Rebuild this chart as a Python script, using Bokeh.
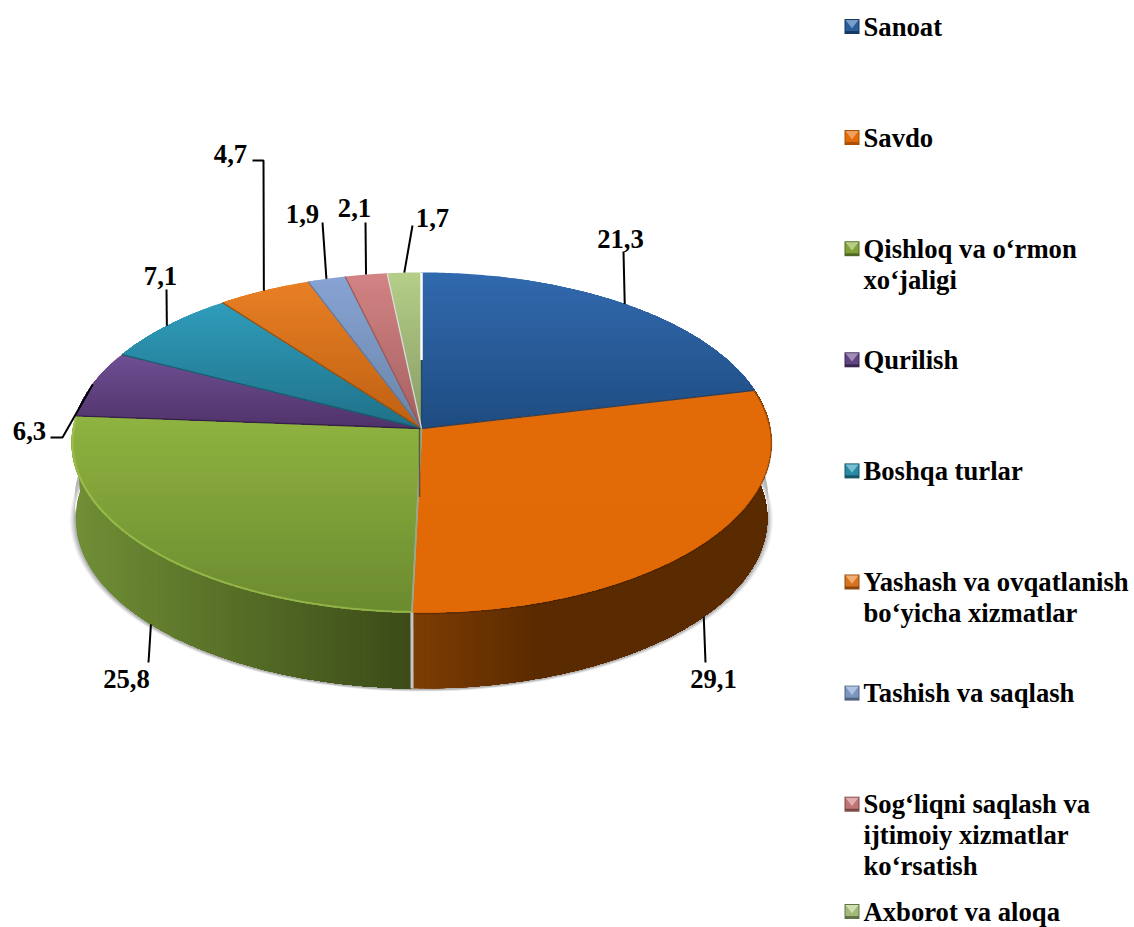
import numpy as np
from bokeh.core.properties import value
from bokeh.embed import file_html
from bokeh.models import Range1d
from bokeh.plotting import figure
from bokeh.resources import INLINE

# ---- data ----
categories = ["Sanoat", "Savdo", "Qishloq va o‘rmon\nxo‘jaligi", "Qurilish", "Boshqa turlar",
              "Yashash va ovqatlanish\nbo‘yicha xizmatlar", "Tashish va saqlash",
              "Sog‘liqni saqlash va\nijtimoiy xizmatlar\nko‘rsatish", "Axborot va aloqa"]
values = [21.3, 29.1, 25.8, 6.3, 7.1, 4.7, 1.9, 2.1, 1.7]

# ---- styles ----
top_hi = ["#3169ae", "#e26b08", "#8fb340", "#6e4f93", "#2f9cba", "#e87f24", "#87a3d2", "#d28383", "#b4ce88"]
top_lo = ["#1e4c80", "#e16a07", "#6a8a2f", "#4f3269", "#1f7088", "#bd6012", "#6a84a8", "#a45f5f", "#869a62"]
side_hi = ["#1e4c80", "#7d3c03", "#708f36", "#4f3269", "#1f7088", "#bd6012", "#6a84a8", "#a45f5f", "#869a62"]
side_lo = ["#122e50", "#5a2a00", "#3b4a17", "#301f40", "#134553", "#743b0b", "#415166", "#643a3a", "#525e3c"]
side_stop = [0.5, 0.35, 1.0, 0.5, 0.5, 0.5, 0.5, 0.5, 0.5]
edge = ["#17375e", "#1b3a5e", "#b4b8b0", "#2f1f40", "#1b5566", "#8a4a10", "#5f7496", "#8f5555", "#dfe4ea"]
FONT = value("Liberation Serif")
LABEL_PX = "26.67px"

# ---- geometry of the pie (page pixels) ----
CX, CY, SX, SY, K, DEPTH, TAPER = 421.0, 428.0, 348.8, 168.9, 0.0824, 76.0, 0.012


def proj(theta, r=1.0, drop=0.0):
    X, Y = r * np.sin(theta), -r * np.cos(theta)
    w = 1 - K * Y
    return CX + SX * X / w * (1 - TAPER * drop / DEPTH), CY + SY * Y / w + drop


def hexrgb(c):
    return np.array([int(c[i:i + 2], 16) for i in (1, 3, 5)], float)


def mix(a, b, t):
    c = hexrgb(a) * (1 - t) + hexrgb(b) * t
    return "#%02x%02x%02x" % tuple(int(round(v)) for v in c)


def clip(px, py, limit, axis):
    """Keep the part of a polygon with coordinate >= limit on the given axis."""
    pts = np.column_stack([px, py])
    out = []
    for i in range(len(pts)):
        a, b = pts[i], pts[(i + 1) % len(pts)]
        ia, ib = a[axis] >= limit, b[axis] >= limit
        if ia:
            out.append(a)
        if ia != ib:
            t = (limit - a[axis]) / (b[axis] - a[axis])
            out.append(a + (b - a) * t)
    if not out:
        return None, None
    out = np.array(out)
    return out[:, 0].tolist(), out[:, 1].tolist()


fractions = np.cumsum([0] + values) / sum(values)
angles = fractions * 2 * np.pi

p = figure(width=1134, height=927, x_range=Range1d(0, 1134), y_range=Range1d(927, 0),
           toolbar_location=None, output_backend="svg", min_border=0,
           x_axis_type=None, y_axis_type=None)
p.outline_line_color = None
p.grid.visible = False

# soft drop shadow below the solid
front = np.linspace(np.pi * 0.46, np.pi * 1.54, 160)
for grow, alpha in zip([1.016, 1.012, 1.008, 1.004], [0.10, 0.14, 0.18, 0.25]):
    sx1, sy1 = proj(front, 1.0, DEPTH)
    sx1 = CX + (sx1 - CX) * grow
    sy1 = CY + DEPTH + (sy1 - CY - DEPTH) * (1 + (grow - 1) * 0.7) + 1
    tx, ty = proj(front[::-1], 1.0, DEPTH * 0.75)
    p.patch(np.r_[sx1, tx], np.r_[sy1, ty], fill_color="#707070", fill_alpha=alpha, line_color=None)

# side walls: colour runs left to right
xs, ys, cs = [], [], []
for i in range(len(values)):
    th = np.linspace(angles[i], angles[i + 1], 120)
    if not np.any(np.cos(th) < 0.05):
        continue
    tx, ty = proj(th)
    bx, by = proj(th[::-1], 1.0, DEPTH)
    px, py = np.r_[tx, bx], np.r_[ty, by]
    for t in np.linspace(0, 1, 60):
        lim = px.min() + t * (px.max() - px.min())
        cx_, cy_ = clip(px, py, lim, 0)
        if cx_:
            xs.append(cx_)
            ys.append(cy_)
            cs.append(mix(side_hi[i], side_lo[i], min(t / side_stop[i], 1.0)))
p.patches(xs, ys, fill_color=cs, line_color=None)

# top faces: colour runs top to bottom
xs, ys, cs = [], [], []
for i in range(len(values)):
    th = np.linspace(angles[i], angles[i + 1], 120)
    tx, ty = proj(th)
    px, py = np.r_[CX, tx], np.r_[CY, ty]
    for t in np.linspace(0, 1, 40):
        lim = py.min() + t * (py.max() - py.min())
        cx_, cy_ = clip(px, py, lim, 1)
        if cx_:
            xs.append(cx_)
            ys.append(cy_)
            cs.append(mix(top_hi[i], top_lo[i], t))
p.patches(xs, ys, fill_color=cs, line_color=None)

# rim highlights and shade
th = np.linspace(angles[2], angles[3], 200)
rx, ry = proj(th, 0.997)
p.line(rx, ry, line_color="#a3c552", line_width=2, line_alpha=0.7)
th = np.linspace(angles[1], angles[2], 200)
rx, ry = proj(th, 1.0, 1.0)
p.line(rx, ry, line_color="#3d1c00", line_width=1.5, line_alpha=0.4)

# slice borders
for i, a in enumerate(angles[:-1]):
    ex, ey = proj(a)
    p.line([CX, ex], [CY, ey], line_color=edge[i], line_width=1.3, line_alpha=0.85)
gx, gy = proj(angles[2])
gbx, gby = proj(angles[2], 1.0, DEPTH)
p.line([gx, gbx], [gy, gby], line_color="#c4c4c4", line_width=3)
p.line([CX, gx], [CY, gy], line_color="#9aa88a", line_width=1.8)
wx, wy = proj(0.0)
mx, my = proj(0.0, 0.42)
p.line([wx, mx], [wy, my], line_color="#ffffff", line_width=2.5)
p.line([CX - 2, CX - 2], [CY, CY + DEPTH * 0.9], line_color="#3a3a2a", line_width=1.5, line_alpha=0.7)

# data labels and leader lines: leaders start on the rim at each slice's middle
label_x = [620, 713, 126, 29, 160, 230, 302, 354, 432]
label_y = [238, 678, 678, 430, 275, 153, 213, 207, 217]
leader_ends = [[(623, 251)], [(705, 662)], [(148, 662)], [(62, 437), (50, 437)], [(166, 289)],
               [(263, 160), (252, 160)], [(322, 222)], [(365, 222)], [(412, 225)]]
mid = (angles[:-1] + angles[1:]) / 2
for i, m in enumerate(mid):
    lx, ly = proj(m, 1.0, DEPTH if np.cos(m) < -0.3 else 0.0)
    pts = [(lx, ly)] + leader_ends[i]
    p.line([q[0] for q in pts], [q[1] for q in pts], line_color="#000000", line_width=2)
p.text(label_x, label_y, text=[f"{v:.1f}".replace(".", ",") for v in values],
       text_font=FONT, text_font_style="bold", text_font_size=LABEL_PX,
       text_color="#000000", text_align="center", text_baseline="middle")

# legend
LEG_Y0, LEG_STEP, LEG_BOX_X, LEG_TXT_X, BOX, LINE, LEG_Y_MAX = 26.0, 111.1, 844.0, 863.0, 15.0, 31.0, 911.0
lt_x, lt_y, lt_s = [], [], []
for i, name in enumerate(categories):
    yc = min(LEG_Y0 + i * LEG_STEP, LEG_Y_MAX)
    x0, y0 = LEG_BOX_X, yc - BOX / 2
    p.quad(left=[x0], right=[x0 + BOX], top=[y0], bottom=[y0 + BOX], fill_color=mix(top_lo[i], "#000000", 0.25), line_color=None)
    p.quad(left=[x0 + 1], right=[x0 + BOX - 1], top=[y0 + 1], bottom=[y0 + BOX - 3], fill_color=mix(top_hi[i], top_lo[i], 0.4), line_color=None)
    p.patch([x0 + 1, x0 + BOX - 1, x0 + BOX / 2], [y0 + 1, y0 + 1, y0 + BOX * 0.62],
            fill_color=mix(top_hi[i], "#ffffff", 0.35), line_color=None)
    for j, part in enumerate(name.split("\n")):
        lt_x.append(LEG_TXT_X)
        lt_y.append(yc + j * LINE)
        lt_s.append(part)
p.text(lt_x, lt_y, text=lt_s, text_font=FONT, text_font_style="bold", text_font_size=LABEL_PX,
       text_color="#000000", text_align="left", text_baseline="middle")

open("out.html", "w").write(file_html(p, INLINE))
